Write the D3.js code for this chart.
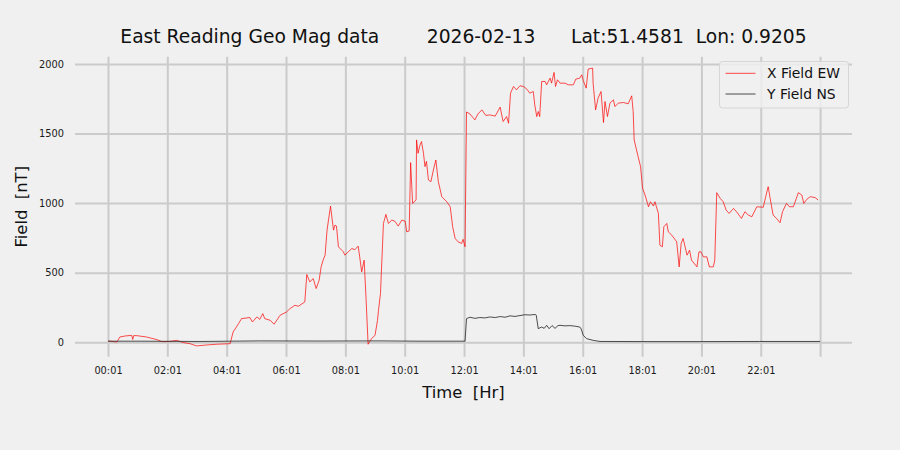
<!DOCTYPE html>
<html lang="en">
<head>
    <meta charset="UTF-8">
    <title>East Reading Geo Mag data</title>
    <style>
        body {
            margin: 0;
            background: #f0f0f0;
            font-family: "DejaVu Sans", sans-serif;
        }

        .grid line {
            stroke: #cbcbcb;
            stroke-width: 2px;
        }

        .tick text {
            font-family: "DejaVu Sans", sans-serif;
            font-size: 9.8px;
            fill: #1a1a1a;
        }

        .line {
            fill: none;
        }
    </style>
</head>

<body>
    <svg id="chart" width="900" height="450"></svg>
    <script src="https://d3js.org/d3.v7.min.js"></script>
    <script>

        // minutes after 00:01 and field values [nT]
        var xTimes = [1, 18, 24, 34, 48, 50, 52, 58, 78, 99, 109, 122, 139, 152, 166, 179, 200, 220, 247, 253,
            264, 270, 287, 292, 301, 307, 313, 317, 328, 336, 348, 361, 368, 378, 385, 398, 402, 408, 415, 421,
            427, 431, 435, 439, 443, 450, 456, 459, 462, 466, 476, 479, 486, 493, 499, 506, 509, 513, 518, 522,
            526, 533, 540, 545, 547, 551, 557, 562, 567, 574, 580, 587, 594, 601, 604, 609, 612, 616, 623, 624,
            627, 631, 634, 638, 641, 644, 648, 653, 658, 663, 668, 675, 685, 692, 697, 702, 708, 715, 718, 722,
            725, 732, 742, 748, 756, 764, 772, 783, 793, 799, 806, 810, 814, 820, 826, 833, 840, 847, 853, 860,
            863, 867, 870, 873, 877, 884, 887, 894, 897, 902, 905, 909, 914, 924, 931, 941, 946, 954, 958, 961,
            967, 971, 980, 981, 986, 991, 997, 1002, 1005, 1010, 1015, 1022, 1025, 1032, 1042, 1052, 1059, 1062, 1064, 1072,
            1077, 1081, 1086, 1093, 1097, 1103, 1106, 1113, 1116, 1121, 1124, 1130, 1133, 1140, 1150, 1155, 1159, 1163, 1171, 1176,
            1180, 1191, 1195, 1199, 1204, 1211, 1216, 1224, 1227, 1231, 1238, 1244, 1250, 1256, 1265, 1271, 1281, 1288, 1295, 1302,
            1312, 1325, 1330, 1335, 1339, 1345, 1352, 1359, 1364, 1372, 1378, 1386, 1396, 1403, 1407, 1413, 1420, 1430, 1436];
        var xField = [9, 2, 38, 45, 50, 20, 48, 48, 38, 19, 5, 5, 14, -2, -10, -26, -19, -14, -10, 74,
            134, 170, 178, 146, 182, 165, 206, 170, 158, 130, 194, 218, 242, 266, 259, 290, 487, 434, 458, 386,
            446, 542, 590, 626, 806, 979, 806, 842, 835, 686, 650, 626, 650, 674, 665, 691, 614, 506, 590, 302,
            -14, 27, 50, 158, 230, 350, 854, 919, 854, 878, 870, 835, 878, 870, 794, 800, 1291, 998, 1022, 1454,
            1358, 1418, 1442, 1358, 1262, 1300, 1166, 1154, 1238, 1310, 1154, 1046, 1010, 974, 830, 746, 722, 710, 740, 686,
            1655, 1640, 1598, 1640, 1670, 1630, 1634, 1625, 1690, 1586, 1622, 1574, 1790, 1838, 1814, 1843, 1838, 1819, 1790, 1802,
            1706, 1622, 1658, 1622, 1874, 1874, 1850, 1898, 1862, 1939, 1838, 1886, 1862, 1862, 1850, 1850, 1891, 1898, 1922, 1881,
            1826, 1963, 1970, 1862, 1670, 1754, 1802, 1579, 1730, 1622, 1718, 1742, 1694, 1718, 1723, 1714, 1771, 1658, 1454, 1334,
            1262, 1106, 1058, 974, 1010, 979, 1010, 926, 698, 686, 830, 854, 794, 770, 722, 542, 710, 746, 626, 662,
            590, 542, 650, 650, 614, 614, 542, 542, 590, 1075, 1034, 1010, 950, 926, 962, 938, 890, 938, 914, 902,
            974, 970, 1046, 1118, 1034, 914, 890, 859, 938, 998, 974, 974, 1075, 1058, 998, 1027, 1046, 1040, 1022];

        var yTimes = [0, 65, 186, 307, 429, 550, 631, 722, 725, 732, 742, 752, 762, 772, 783, 793, 803, 813, 823, 833,
            843, 853, 864, 866, 870, 877, 882, 887, 892, 898, 904, 910, 914, 924, 934, 944, 954, 957, 961, 968,
            981, 995, 1096, 1197, 1318, 1440];
        var yField = [8, 8, 6, 10, 9, 10, 8, 8, 170, 180, 172, 178, 175, 182, 178, 185, 180, 190, 186, 192,
            198, 196, 200, 195, 98, 110, 100, 122, 98, 120, 100, 120, 122, 118, 120, 116, 110, 95, 50, 26,
            14, 6, 5, 5, 6, 6];

        var tickMinutes = [0, 120, 240, 360, 480, 600, 720, 840, 960, 1080, 1200, 1320, 1440];
        var tickLabels = ["00:01", "02:01", "04:01", "06:01", "08:01", "10:01", "12:01", "14:01",
            "16:01", "18:01", "20:01", "22:01", ""];
        var yTicks = [0, 500, 1000, 1500, 2000];

        var title = "East Reading Geo Mag data        2026-02-13      Lat:51.4581  Lon: 0.9205";
        var seriesNames = ["X Field EW", "Y Field NS"];
        var seriesColors = ["#ff0000", "#222222"];

        var svg = d3.select("#chart");
        var pLeft = 75, pRight = 852, pTop = 56.7, pBottom = 356.7;

        var x = d3.scaleLinear().domain([-66.7, 1504.5]).range([pLeft, pRight]);
        var y = d3.scaleLinear().domain([-103.5, 2052]).range([pBottom, pTop]);

        // grid + x ticks
        var xAxis = d3.axisBottom(x)
            .tickValues(tickMinutes)
            .tickFormat(function (d, i) { return tickLabels[i]; })
            .tickSize(pBottom - pTop)
            .tickSizeOuter(0);
        var gx = svg.append("g")
            .attr("class", "grid")
            .attr("transform", "translate(0," + pTop + ")")
            .call(xAxis);
        gx.select(".domain").remove();
        gx.selectAll("text").attr("y", pBottom - pTop + 10).attr("dy", "0.71em");

        var yAxis = d3.axisLeft(y)
            .tickValues(yTicks)
            .tickFormat(d3.format("d"))
            .tickSize(pRight - pLeft)
            .tickSizeOuter(0);
        var gy = svg.append("g")
            .attr("class", "grid")
            .attr("transform", "translate(" + pRight + ",0)")
            .call(yAxis);
        gy.select(".domain").remove();
        gy.selectAll("text").attr("x", -(pRight - pLeft) - 11);

        // data lines
        var line = d3.line()
            .x(function (d) { return x(d[0]); })
            .y(function (d) { return y(d[1]); });

        svg.append("path")
            .datum(d3.zip(xTimes, xField))
            .attr("class", "line")
            .attr("stroke", seriesColors[0])
            .attr("stroke-width", 0.7)
            .attr("d", line);

        svg.append("path")
            .datum(d3.zip(yTimes, yField))
            .attr("class", "line")
            .attr("stroke", seriesColors[1])
            .attr("stroke-width", 0.8)
            .attr("d", line);

        // titles
        svg.append("text")
            .attr("x", (pLeft + pRight) / 2)
            .attr("y", 43)
            .attr("text-anchor", "middle")
            .style("white-space", "pre")
            .style("font-size", "18.7px")
            .attr("fill", "#111")
            .text(title);

        svg.append("text")
            .attr("x", (pLeft + pRight) / 2)
            .attr("y", 398)
            .attr("text-anchor", "middle")
            .style("white-space", "pre")
            .style("font-size", "16.4px")
            .attr("fill", "#111")
            .text("Time  [Hr]");

        svg.append("text")
            .attr("transform", "translate(27," + (pTop + pBottom) / 2 + ") rotate(-90)")
            .attr("text-anchor", "middle")
            .style("white-space", "pre")
            .style("font-size", "16.4px")
            .attr("fill", "#111")
            .text("Field  [nT]");

        // legend
        var legend = svg.append("g").attr("transform", "translate(719.5,61.5)");
        legend.append("rect")
            .attr("width", 129)
            .attr("height", 46.5)
            .attr("rx", 3)
            .attr("fill", "#f0f0f0")
            .attr("fill-opacity", 0.8)
            .attr("stroke", "#d6d6d6")
            .attr("stroke-width", 1);

        seriesNames.forEach(function (name, i) {
            var ly = 11.8 + i * 20.7;
            legend.append("line")
                .attr("x1", 6).attr("x2", 36)
                .attr("y1", ly).attr("y2", ly)
                .attr("stroke", seriesColors[i])
                .attr("stroke-width", i === 0 ? 0.7 : 0.8);
            legend.append("text")
                .attr("x", 47.5)
                .attr("y", ly + 5)
                .style("font-size", "13.9px")
                .attr("fill", "#111")
                .text(name);
        });
    </script>
</body>

</html>
